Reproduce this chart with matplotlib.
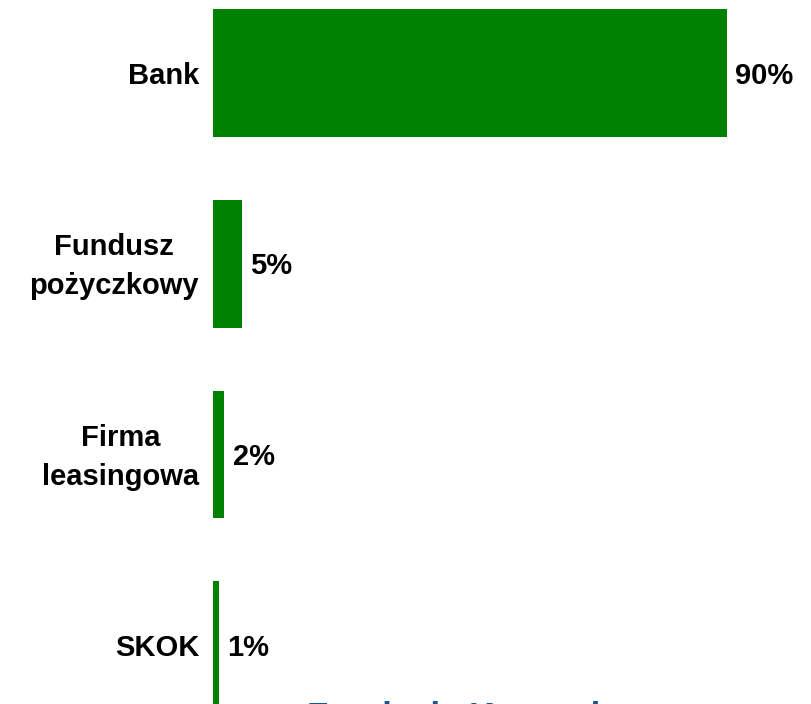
import matplotlib
matplotlib.use("Agg")
import matplotlib.pyplot as plt

categories = ["Bank", "Fundusz\npożyczkowy", "Firma\nleasingowa", "SKOK"]
values = [90, 5, 2, 1]
value_labels = ["90%", "5%", "2%", "1%"]

plt.rcParams['font.family'] = ['Liberation Sans', 'DejaVu Sans']

W, H = 812, 704
fig = plt.figure(figsize=(W / 100, H / 100), dpi=100)
ax = fig.add_axes([213 / W, 0, 571 / W, 1])

y = list(range(len(categories)))
ax.barh(y, values, height=0.67, color="#008000")
ax.set_xlim(0, 100)
step = 190.7
ax.set_ylim((H - 73) / step, -73 / step)

for yi, v, lab in zip(y, values, value_labels):
    ax.annotate(lab, (v, yi), xytext=(6, -2), textcoords="offset points",
                ha="left", va="center", fontsize=21, fontweight="bold")
for yi, c in zip(y, categories):
    ax.annotate(c, (0, yi), xytext=(-10, -2), textcoords="offset points",
                ha="right", va="center", fontsize=21, fontweight="bold",
                multialignment="center", linespacing=1.5)

ax.set_xticks([])
ax.set_yticks([])
for s in ax.spines.values():
    s.set_visible(False)

fig.text(307 / W, 1 - 701 / H, "Fundacja Kronenberga", ha="left", va="top",
         fontsize=25, fontweight="bold", color="#1d5590")

fig.savefig("out.png", dpi=100)
